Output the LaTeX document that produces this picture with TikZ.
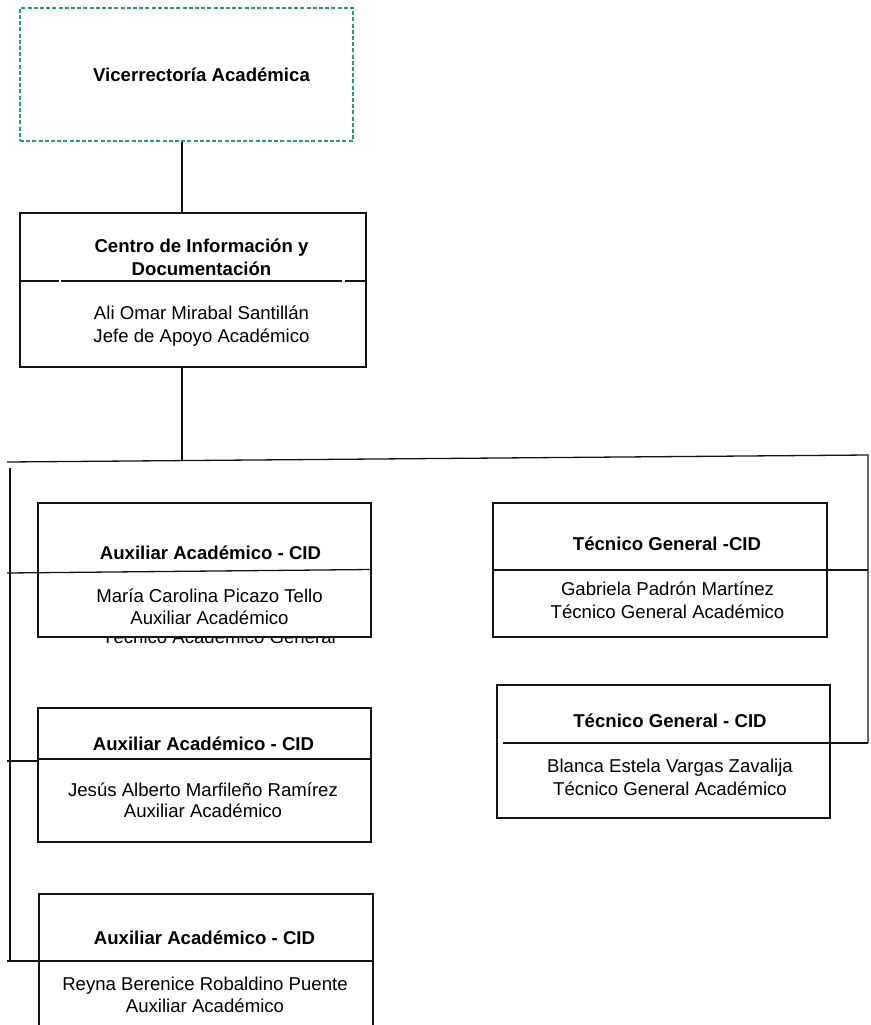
\documentclass[tikz,border=0pt]{standalone}
\usepackage{fontspec}
\setmainfont{Liberation Sans}
\definecolor{vicegreen}{RGB}{32,160,120}
\definecolor{inkline}{RGB}{20,20,20}
\begin{document}
\begin{tikzpicture}[x=1pt,y=-1pt,
  orgbox/.style={draw=inkline, line width=1.3pt, fill=white, inner sep=0pt},
  vicebox/.style={draw=vicegreen, line width=1.3pt, dash pattern=on 4pt off 2.2pt, inner sep=0pt},
  link/.style={draw=inkline, line width=1.3pt},
  title/.style={font=\fontsize{18.6}{22}\selectfont\bfseries, anchor=base, inner sep=0pt},
  body/.style={font=\fontsize{18.6}{22}\selectfont, anchor=base, inner sep=0pt}
]
\clip (0,0) rectangle (870,1025);

% text left behind the first assistant box
\node[body] (a1old) at (219,643) {Técnico Académico General};

% boxes
\node[vicebox, minimum width=333, minimum height=133] (vice) at (186.5,74.5) {};
\node[orgbox, minimum width=346, minimum height=154] (cid) at (193,290) {};
\node[orgbox, minimum width=333, minimum height=134] (a1) at (204.5,570) {};
\node[orgbox, minimum width=334, minimum height=134] (t1) at (660,570) {};
\node[orgbox, minimum width=333, minimum height=133] (t2) at (663.5,751.5) {};
\node[orgbox, minimum width=333, minimum height=134] (a2) at (204.5,775) {};
\node[orgbox, minimum width=334, minimum height=146] (a3) at (206,967) {};

% dividers inside the boxes
\draw[link] (cid.west |- 0,281) -- (59,281) (61,281) -- (342,281) (345,281) -- (cid.east |- 0,281);
\draw[inkline, line width=2.4pt] (a2.west |- 0,759) -- (a2.east |- 0,759);

% connectors
\coordinate (trunkL) at (7,462);
\coordinate (trunkR) at (868,455);
\coordinate (railtop) at (10,468);
\coordinate (railbot) at (10,961);
\draw[link] (182,0 |- vice.south) -- (182,0 |- cid.north);
\draw[link] (182,0 |- cid.south) -- (182,460.8);
\draw[link] (trunkL) -- (trunkR) -- (868,743);
\draw[inkline, line width=2pt] (railtop) -- (railbot);
\draw[link] (7,573) -- (a1.east |- 0,569.5);
\draw[link] (t1.west) -- (t1.west -| trunkR);
\draw[link] (503,743) -- (868,743);
\draw[link] (7,761) -- (a2.west |- 0,761);
\draw[link] (7,961) -- (a3.east |- 0,961);

% texts
\node[title] (vicet) at (201.5,81.5) {Vicerrectoría Académica};
\node[title] (cidt1) at (201.5,252) {Centro de Información y};
\node[title] (cidt2) at (201.5,275) {Documentación};
\node[body] (cidn) at (201.5,319) {Ali Omar Mirabal Santillán};
\node[body] (cidp) at (201.5,342) {Jefe de Apoyo Académico};

\node[title] (a1t) at (210.5,559) {Auxiliar Académico - CID};
\node[body] (a1n) at (209.5,602) {María Carolina Picazo Tello};
\node[body] (a1p) at (209.5,624) {Auxiliar Académico};

\node[title] (t1t) at (667,550) {Técnico General -CID};
\node[body] (t1n) at (667.5,595) {Gabriela Padrón Martínez};
\node[body] (t1p) at (667.5,618) {Técnico General Académico};

\node[title] (t2t) at (670,727) {Técnico General - CID};
\node[body] (t2n) at (670,772) {Blanca Estela Vargas Zavalija};
\node[body] (t2p) at (670,795) {Técnico General Académico};

\node[title] (a2t) at (203.5,750) {Auxiliar Académico - CID};
\node[body] (a2n) at (203,796) {Jesús Alberto Marfileño Ramírez};
\node[body] (a2p) at (203,817) {Auxiliar Académico};

\node[title] (a3t) at (204.5,944) {Auxiliar Académico - CID};
\node[body] (a3n) at (205,990) {Reyna Berenice Robaldino Puente};
\node[body] (a3p) at (205,1012) {Auxiliar Académico};
\end{tikzpicture}
\end{document}
